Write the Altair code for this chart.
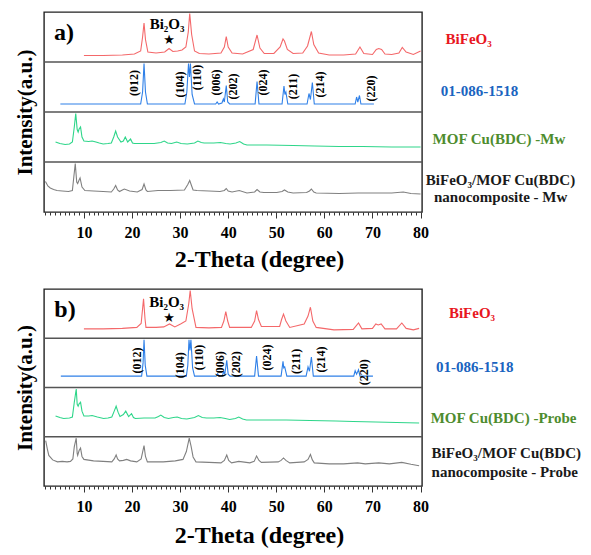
import altair as alt
import pandas as pd

# ---------------- data (2-theta, fraction of band height) ----------------
A_RED = [(10.0,0.13),(14,0.13),(18,0.14),(20.5,0.16),(21.8,0.22),(22.2,0.5),(22.5,0.78),(22.8,0.45),(23.3,0.2),(25,0.18),
         (26.8,0.2),(27.7,0.27),(28.5,0.21),(29.5,0.22),(30.4,0.24),(31.2,0.3),(31.7,0.6),(32.0,0.97),(32.4,0.55),(33.0,0.22),
         (34,0.17),(36,0.16),(38.5,0.18),(39.2,0.3),(39.6,0.51),(40.0,0.3),(40.8,0.18),(43,0.16),(45.2,0.25),(46.0,0.54),
         (46.6,0.28),(47.5,0.17),(49.5,0.17),(50.8,0.3),(51.4,0.46),(51.7,0.42),(52.3,0.25),(53.5,0.17),(55.5,0.18),(56.5,0.32),
         (57.3,0.61),(57.8,0.35),(58.8,0.18),(61,0.14),(64,0.14),(66.5,0.16),(67.4,0.3),(68.2,0.17),(70,0.15),(70.8,0.25),
         (71.3,0.27),(71.9,0.25),(72.6,0.16),(74,0.15),(75.5,0.18),(76.2,0.29),(77,0.2),(78.5,0.15),(80,0.22)]
A_BLUE = [(5.1,0.16),(21.8,0.16),(22.2,0.4),(22.5,0.97),(22.8,0.4),(23.2,0.16),(31.0,0.16),(31.4,0.4),(31.75,0.97),(31.95,0.7),
          (32.15,0.97),(32.5,0.35),(33.0,0.16),(37.4,0.16),(37.7,0.2),(38.0,0.16),(38.7,0.18),(39.0,0.26),(39.2,0.2),(39.6,0.53),
          (39.9,0.2),(40.3,0.16),(45.6,0.16),(46.0,0.61),(46.4,0.16),(51.2,0.16),(51.6,0.52),(51.8,0.35),(52.0,0.4),(52.4,0.16),
          (56.4,0.16),(56.8,0.37),(57.1,0.25),(57.5,0.59),(57.9,0.16),(66.4,0.16),(66.7,0.3),(66.95,0.2),(67.3,0.33),(67.6,0.16),
          (70.3,0.16)]
A_GREEN = [(4.1,0.4),(5.0,0.37),(6.1,0.35),(7.0,0.36),(7.6,0.4),(8.0,0.7),(8.3,0.97),(8.6,0.65),(8.8,0.6),(9.0,0.66),
           (9.3,0.7),(9.6,0.5),(10.0,0.42),(11.0,0.41),(11.7,0.42),(12.5,0.4),(13.2,0.38),(14.0,0.36),(15.0,0.37),(15.7,0.38),
           (16.2,0.5),(16.6,0.62),(17.0,0.5),(17.7,0.4),(18.2,0.42),(18.6,0.5),(19.1,0.4),(19.7,0.46),(20.1,0.38),(20.5,0.37),
           (22.5,0.37),(24.6,0.37),(26.0,0.39),(26.7,0.42),(27.4,0.38),(28.2,0.37),(29.3,0.4),(30.2,0.37),(31.5,0.36),(33.0,0.38),
           (33.7,0.42),(34.4,0.39),(35,0.38),(37,0.38),(38.4,0.39),(39.5,0.37),(40.4,0.36),(41.6,0.38),(42.4,0.41),(43.2,0.36),
           (43.9,0.34),(48,0.34),(53.5,0.33),(58,0.32),(63.1,0.31),(68,0.31),(74,0.3),(80,0.3)]
A_GRAY = [(2.0,0.61),(2.5,0.52),(3.0,0.48),(3.7,0.45),(4.4,0.43),(5.5,0.42),(6.8,0.41),(7.6,0.43),(7.9,0.7),(8.2,0.97),
          (8.5,0.6),(8.7,0.57),(9.0,0.64),(9.2,0.68),(9.6,0.5),(10.2,0.43),(12,0.42),(14,0.41),(15.7,0.4),(16.2,0.46),
          (16.6,0.53),(17.0,0.44),(17.4,0.41),(18.0,0.44),(18.4,0.46),(19.5,0.42),(21.1,0.4),(22.1,0.45),(22.5,0.56),(22.9,0.44),
          (23.2,0.41),(25.4,0.43),(28,0.43),(30.9,0.44),(31.6,0.55),(32.0,0.63),(32.4,0.52),(32.7,0.44),(33.5,0.43),(36,0.42),
          (38.3,0.41),(39.2,0.43),(39.6,0.47),(40.0,0.42),(40.8,0.4),(42.3,0.43),(43.9,0.38),(45.5,0.4),(46.0,0.45),(46.6,0.4),
          (47.4,0.39),(50.1,0.39),(51.2,0.41),(51.7,0.44),(52.4,0.4),(53.5,0.38),(56.3,0.39),(56.9,0.42),(57.3,0.46),(57.8,0.4),
          (58.3,0.38),(63.1,0.37),(67,0.38),(70.5,0.38),(74,0.38),(76.4,0.4),(78,0.37),(80,0.36)]

B_RED = [(10.0,0.19),(14,0.19),(18,0.2),(21.0,0.22),(21.9,0.3),(22.4,0.8),(22.7,0.4),(22.9,0.22),(25,0.22),(26.6,0.23),
         (27.8,0.29),(28.9,0.23),(30.1,0.29),(31.2,0.35),(31.8,0.7),(32.1,0.97),(32.5,0.6),(33.3,0.22),(36,0.21),(38.6,0.22),
         (39.1,0.35),(39.5,0.54),(39.9,0.35),(40.3,0.22),(44.8,0.22),(45.5,0.35),(45.9,0.56),(46.3,0.38),(46.9,0.24),(50.7,0.24),
         (51.1,0.38),(51.5,0.49),(52.0,0.35),(52.8,0.22),(55.8,0.29),(56.6,0.45),(57.1,0.63),(57.6,0.35),(58.3,0.22),(62,0.17),
         (66.0,0.18),(67.1,0.31),(67.8,0.19),(70.0,0.2),(70.7,0.29),(71.2,0.27),(71.8,0.29),(72.6,0.19),(75.0,0.19),(76.1,0.31),
         (77.0,0.2),(78.5,0.17),(79.7,0.2)]
B_BLUE = [(5.2,0.23),(22.0,0.23),(22.3,0.5),(22.5,0.97),(22.75,0.45),(23.1,0.23),(31.3,0.23),(31.6,0.45),(31.85,0.97),(32.05,0.75),
          (32.25,0.97),(32.6,0.4),(33.0,0.23),(37.5,0.23),(37.8,0.28),(38.1,0.23),(38.8,0.25),(39.1,0.32),(39.3,0.27),(39.7,0.55),
          (40.0,0.27),(40.4,0.23),(45.5,0.23),(45.9,0.64),(46.3,0.23),(51.0,0.23),(51.4,0.53),(51.55,0.4),(51.75,0.42),(52.2,0.23),
          (56.2,0.23),(56.6,0.42),(56.9,0.33),(57.3,0.62),(57.7,0.23),(66.1,0.23),(66.4,0.34),(66.7,0.27),(67.1,0.36),(67.4,0.23),
          (70.1,0.23)]
B_GREEN = [(4.1,0.42),(5.0,0.39),(5.8,0.37),(7.0,0.38),(7.6,0.4),(8.0,0.7),(8.4,0.97),(8.6,0.66),(8.8,0.62),(9.0,0.67),
           (9.3,0.7),(9.6,0.52),(10.0,0.42),(11.0,0.42),(11.7,0.43),(12.8,0.4),(14.1,0.37),(15.0,0.38),(15.8,0.4),(16.3,0.52),
           (16.7,0.62),(17.1,0.5),(17.5,0.41),(18.2,0.45),(18.7,0.52),(19.3,0.41),(19.9,0.47),(20.3,0.39),(20.7,0.37),(22.5,0.38),
           (24.8,0.38),(25.5,0.41),(26.0,0.44),(26.7,0.39),(27.6,0.37),(28.6,0.39),(29.4,0.4),(30.3,0.37),(31.4,0.36),(33.0,0.39),
           (33.8,0.43),(34.6,0.39),(35.5,0.38),(37,0.38),(38.3,0.39),(39.4,0.37),(40.3,0.35),(41.5,0.37),(42.2,0.4),(43.0,0.36),
           (43.8,0.34),(48,0.34),(52.1,0.34),(57,0.33),(62.4,0.32),(66,0.31),(70.7,0.3),(75,0.29),(79.7,0.28)]
B_GRAY = [(2.05,0.92),(2.4,0.75),(2.7,0.62),(3.5,0.53),(4.5,0.49),(5.5,0.5),(6.5,0.49),(7.2,0.5),(7.7,0.55),(8.0,0.8),
          (8.4,0.97),(8.6,0.66),(8.7,0.62),(9.0,0.72),(9.3,0.77),(9.6,0.6),(10.0,0.54),(12,0.51),(14,0.5),(15.8,0.49),
          (16.3,0.55),(16.7,0.63),(17.0,0.55),(17.4,0.51),(18.2,0.52),(18.9,0.54),(19.7,0.51),(21.0,0.49),(21.9,0.55),(22.5,0.82),
          (22.8,0.6),(23.2,0.49),(26.5,0.49),(29,0.51),(30.6,0.54),(31.3,0.7),(31.9,0.97),(32.3,0.8),(32.7,0.59),(33.3,0.49),
          (36,0.48),(38.5,0.47),(39.2,0.52),(39.7,0.63),(40.1,0.52),(40.7,0.47),(42.2,0.5),(44.5,0.47),(45.4,0.5),(45.9,0.61),
          (46.4,0.52),(46.9,0.48),(50.4,0.49),(51.0,0.52),(51.5,0.57),(52.0,0.52),(52.8,0.47),(55.8,0.49),(56.6,0.54),(57.1,0.64),
          (57.5,0.53),(57.9,0.47),(61,0.45),(64,0.45),(66.9,0.47),(68.5,0.45),(71.3,0.47),(73.5,0.45),(76.1,0.48),(78,0.44),
          (79.7,0.41)]

HKL = ["(012)", "(104)", "(110)", "(006)", "(202)", "(024)", "(211)", "(214)", "(220)"]
A_HKL_X = [20.5, 30.0, 33.6, 37.5, 41.1, 47.3, 53.5, 59.0, 69.6]
A_HKL_Y = [2.58, 2.55, 2.69, 2.59, 2.51, 2.59, 2.51, 2.55, 2.47]
B_HKL_X = [21.0, 30.0, 34.0, 38.2, 41.7, 48.0, 54.0, 59.3, 68.3]
B_HKL_Y = [2.55, 2.45, 2.61, 2.47, 2.47, 2.61, 2.53, 2.57, 2.31]

A_LABELS = ["BiFeO₃", "01-086-1518", "MOF Cu(BDC) -Mw", "BiFeO₃/MOF Cu(BDC)", "nanocomposite - Mw"]
B_LABELS = ["BiFeO₃", "01-086-1518", "MOF Cu(BDC) -Probe", "BiFeO₃/MOF Cu(BDC)", "nanocomposite - Probe"]
A_LAB_X = [85.2, 84.2, 82.5, 81.1, 82.8]
A_LAB_Y = [3.47, 2.43, 1.46, 0.64, 0.30]
B_LAB_X = [85.9, 83.2, 82.1, 82.3, 82.3]
B_LAB_Y = [3.52, 2.41, 1.39, 0.66, 0.28]
LAB_COLORS = ["#e8161e", "#1a64c0", "#4e8c2e", "#1a1a1a", "#1a1a1a"]

SERIES = ["BiFeO3", "ref", "MOF", "comp"]
TRACE_COLORS = ["#f4686a", "#2f80e8", "#2ed68a", "#808080"]
OFFSETS = [3, 2, 1, 0]

FONT = "Liberation Serif"


def panel(red, blue, green, gray, hx, hy, labels, lx, ly, tag, tag_xy, bi_xy, star_xy, height, title_pad):
    rows = []
    for name, off, pts in zip(SERIES, OFFSETS, [red, blue, green, gray]):
        for x, f in pts:
            rows.append({"x": x, "y": off + f, "s": name})
    df = pd.DataFrame(rows)

    xs = alt.Scale(domain=[1.7, 80.3], nice=False, zero=False)
    ys = alt.Scale(domain=[0, 4], nice=False, zero=False)

    xaxis = alt.Axis(
        title="2-Theta (degree)", values=list(range(2, 81)),
        labelExpr="datum.value % 10 === 0 ? datum.label : ''", labelOverlap=False, labelFlush=True,
        tickSize={"condition": {"test": "datum.value % 10 === 0", "value": 6}, "value": 3},
        tickColor="#333", tickWidth=1, domain=False, grid=False,
        labelFont=FONT, labelFontSize=16, labelFontWeight="bold", labelColor="black", labelPadding=6,
        titleFont=FONT, titleFontSize=24, titleFontWeight="bold", titleColor="black",
        titlePadding=title_pad, titleX=215,
    )
    yaxis = alt.Axis(
        title="Intensity(a.u.)", labels=False, ticks=False, domain=False, grid=False,
        titleFont=FONT, titleFontSize=21, titleFontWeight="bold", titleColor="black", titlePadding=9,
    )
    X = alt.X("x:Q", scale=xs, axis=xaxis)
    Y = alt.Y("y:Q", scale=ys, axis=yaxis)

    lines = alt.Chart(df).mark_line(strokeWidth=1.1).encode(
        x=X, y=Y,
        color=alt.Color("s:N", scale=alt.Scale(domain=SERIES, range=TRACE_COLORS), legend=None),
    )
    seps = alt.Chart(pd.DataFrame({"y": [1, 2, 3]})).mark_rule(color="#555", strokeWidth=1.3).encode(y=Y)
    hkl = alt.Chart(pd.DataFrame({"t": HKL, "x": hx, "y": hy})).mark_text(
        angle=270, font=FONT, fontSize=12, fontWeight="bold", color="black", align="center", baseline="middle"
    ).encode(x=X, y=Y, text="t:N")
    labs = alt.Chart(pd.DataFrame({"t": labels, "x": lx, "y": ly, "c": LAB_COLORS})).mark_text(
        font=FONT, fontSize=15, fontWeight="bold", align="left", baseline="middle"
    ).encode(x=X, y=Y, text="t:N", color=alt.Color("c:N", scale=None))
    tagm = alt.Chart(pd.DataFrame({"t": [tag], "x": [tag_xy[0]], "y": [tag_xy[1]]})).mark_text(
        font=FONT, fontSize=24, fontWeight="bold", color="black", align="left", baseline="middle"
    ).encode(x=X, y=Y, text="t:N")
    bim = alt.Chart(pd.DataFrame({"t": ["Bi₂O₃"], "x": [bi_xy[0]], "y": [bi_xy[1]]})).mark_text(
        font=FONT, fontSize=15, fontWeight="bold", color="black", align="center", baseline="middle"
    ).encode(x=X, y=Y, text="t:N")
    star = alt.Chart(pd.DataFrame({"t": ["★"], "x": [star_xy[0]], "y": [star_xy[1]]})).mark_text(
        font="DejaVu Sans", fontSize=13, color="black", align="center", baseline="middle"
    ).encode(x=X, y=Y, text="t:N")

    return alt.layer(lines, seps, hkl, labs, tagm, bim, star).properties(width=378, height=height)


pa = panel(A_RED, A_BLUE, A_GREEN, A_GRAY, A_HKL_X, A_HKL_Y, A_LABELS, A_LAB_X, A_LAB_Y,
           "a)", (3.8, 3.58), (27.3, 3.76), (27.7, 3.44), 200, 7)
pb = panel(B_RED, B_BLUE, B_GREEN, B_GRAY, B_HKL_X, B_HKL_Y, B_LABELS, B_LAB_X, B_LAB_Y,
           "b)", (3.85, 3.58), (27.2, 3.73), (27.7, 3.42), 197, 9)

chart = alt.vconcat(pa, pb, spacing=15).properties(
    padding={"left": 5, "top": 2, "right": 0, "bottom": 0},
    background="white",
).configure_view(stroke="#222", strokeWidth=1.4)

chart.save("out.html", embed_options={"renderer": "svg", "actions": False})
